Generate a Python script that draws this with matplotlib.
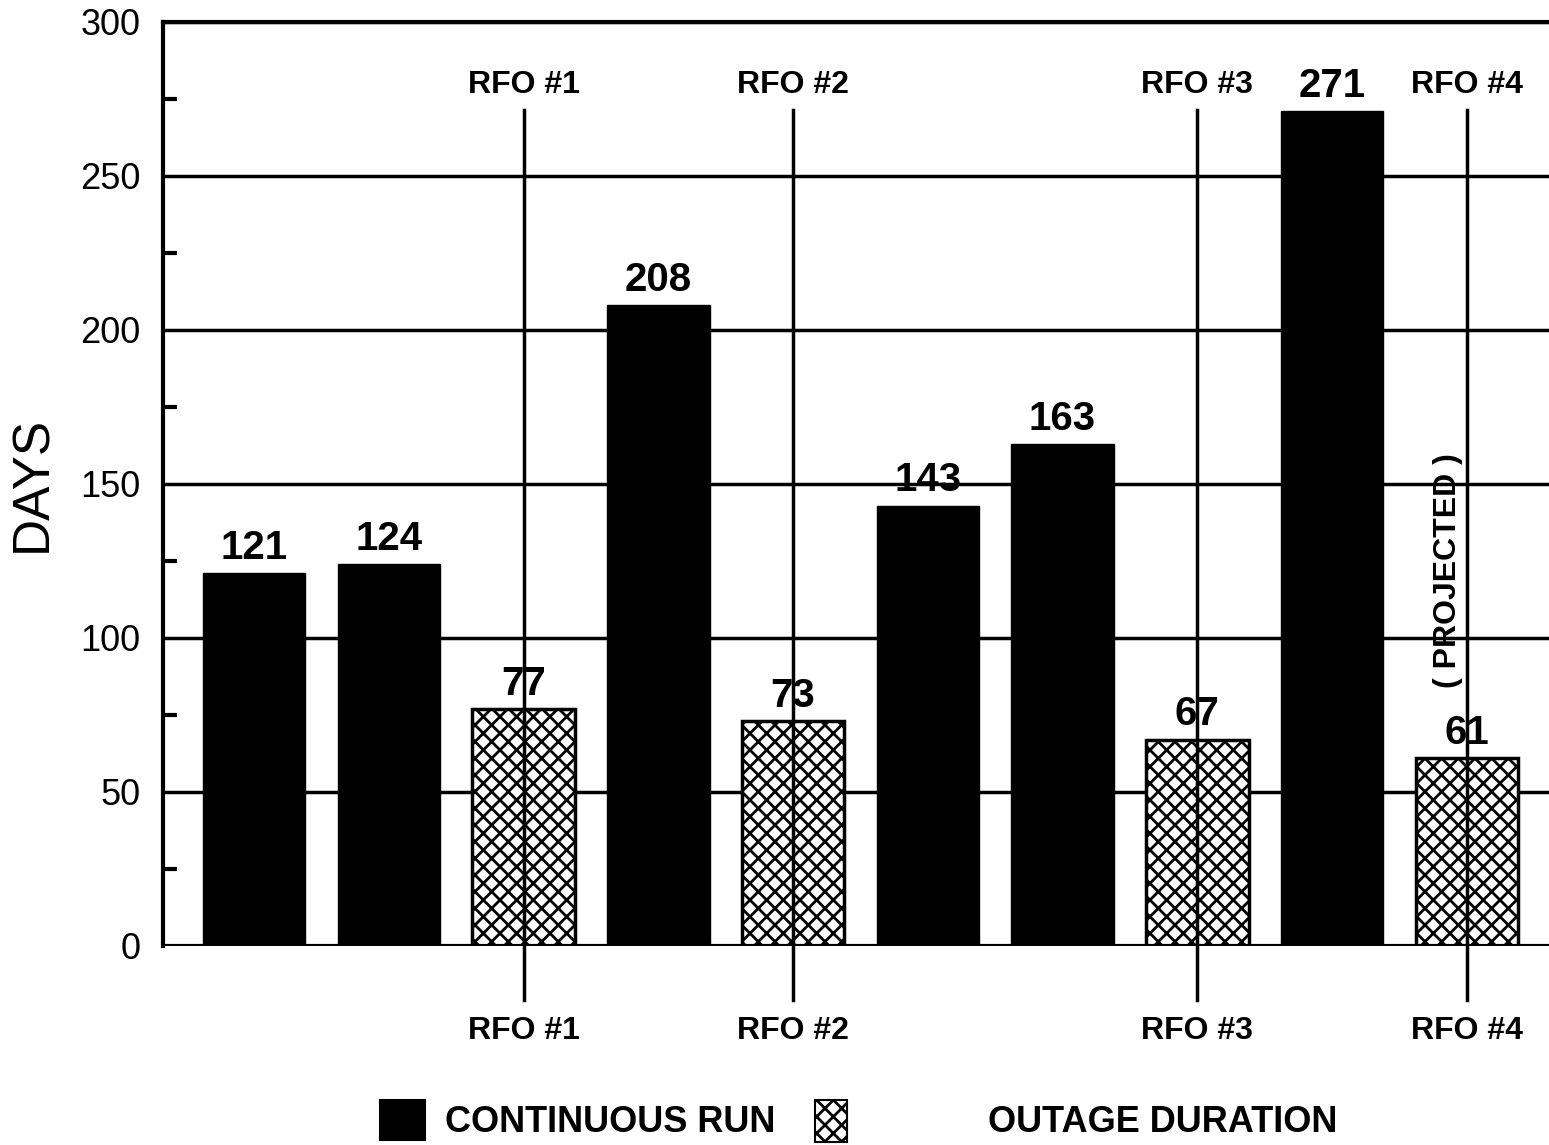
import matplotlib
matplotlib.use("Agg")
import matplotlib.pyplot as plt
from matplotlib.patches import Rectangle
from matplotlib.ticker import MultipleLocator

positions = [1, 2, 3, 4, 5, 6, 7, 8, 9, 10]
values = [121, 124, 77, 208, 73, 143, 163, 67, 271, 61]
kinds = ["run", "run", "outage", "run", "outage", "run", "run", "outage", "run", "outage"]
rfo_labels = ["RFO #1", "RFO #2", "RFO #3", "RFO #4"]
yticks = [0, 50, 100, 150, 200, 250, 300]
legend_labels = ["CONTINUOUS RUN", "OUTAGE DURATION"]

BOLD = ["Liberation Sans", "DejaVu Sans"]
REG = ["Liberation Sans", "DejaVu Sans"]

plt.rcParams['hatch.linewidth'] = 2.0

fig = plt.figure(figsize=(15.49, 11.45), dpi=100)
ax = fig.add_axes([0.1052, 0.1738, 0.8948, 0.807])

ax.set_xlim(0.324, 10.61)
ax.set_ylim(0, 300)

# grid lines
for v in yticks[1:]:
    ax.axhline(v, color="black", lw=2.5, zorder=1)

run_x = [p for p, k in zip(positions, kinds) if k == "run"]
run_v = [v for v, k in zip(values, kinds) if k == "run"]
out_x = [p for p, k in zip(positions, kinds) if k == "outage"]
out_v = [v for v, k in zip(values, kinds) if k == "outage"]

ax.bar(run_x, run_v, width=0.76, color="black", edgecolor="black", lw=1, zorder=2)
ax.bar(out_x, out_v, width=0.76, color="white", edgecolor="black", hatch="xx", lw=2.5, zorder=2)

for p, v in zip(positions, values):
    ax.text(p, v + 2, str(v), ha="center", va="bottom", fontsize=29,
            fontweight="bold", family=BOLD, zorder=5)

# RFO vertical lines and labels
for p, lab in zip(out_x, rfo_labels):
    ax.plot([p, p], [271.4, -17.5], color="black", lw=2.5, zorder=4, clip_on=False)
    ax.text(p, 279.5, lab, ha="center", va="center", fontsize=23,
            fontweight="bold", family=BOLD, zorder=5)
    ax.text(p, -27.5, lab, ha="center", va="center", fontsize=23,
            fontweight="bold", family=BOLD, zorder=5, clip_on=False)

ax.text(out_x[-1] - 0.14, 122, "( PROJECTED )", rotation=90, ha="center", va="center",
        fontsize=23, fontweight="bold", family=BOLD, zorder=5)

# axes styling
for s in ["right", "bottom"]:
    ax.spines[s].set_visible(False)
ax.spines["left"].set_linewidth(3)
ax.spines["top"].set_linewidth(3)
ax.axhline(0, color="black", lw=3, zorder=3)

ax.set_xticks([])
ax.set_yticks(yticks)
ax.yaxis.set_minor_locator(MultipleLocator(25))
ax.tick_params(axis="y", which="major", length=0, pad=16, labelsize=26)
ax.tick_params(axis="y", which="minor", direction="in", length=10, width=3)
for t in ax.get_yticklabels():
    t.set_family(REG)

ax.set_ylabel("DAYS", fontsize=37, family=REG, va="center")
ax.yaxis.set_label_coords(-0.094, 0.5)

# legend (drawn manually in figure coordinates)
W, H = 1549.0, 1145.0
r1 = Rectangle((380 / W, 1 - 1140 / H), 45 / W, 40 / H, transform=fig.transFigure,
               facecolor="black", edgecolor="black", lw=1.5)
r2 = Rectangle((815 / W, 1 - 1142 / H), 32 / W, 42 / H, transform=fig.transFigure,
               facecolor="white", edgecolor="black", hatch="xx", lw=1.5)
fig.add_artist(r1)
fig.add_artist(r2)
fig.text(445 / W, 1 - 1122 / H, legend_labels[0], ha="left", va="center", fontsize=26,
         fontweight="bold", family=BOLD)
fig.text(988 / W, 1 - 1122 / H, legend_labels[1], ha="left", va="center", fontsize=26,
         fontweight="bold", family=BOLD)

fig.savefig("out.png", dpi=100)
